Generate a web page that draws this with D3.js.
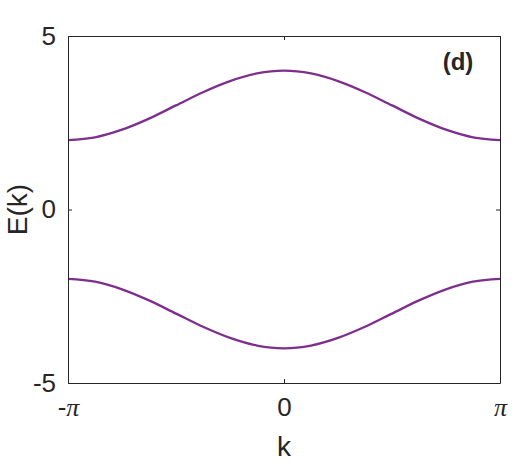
<!DOCTYPE html>
<html>
<head>
<meta charset="utf-8">
<script src="https://cdn.jsdelivr.net/npm/d3@7"></script>
<style>
  body { margin: 0; background: #fff; }
  text { font-family: "Liberation Sans", Arial, sans-serif; fill: #262626; }
</style>
</head>
<body>
<script>
// k samples (in units of pi) and band energies
var kPi = [-1, -0.875, -0.75, -0.625, -0.5, -0.375, -0.25, -0.125, 0,
           0.125, 0.25, 0.375, 0.5, 0.625, 0.75, 0.875, 1];
var upperBand = [2.00, 2.08, 2.30, 2.62, 3.00, 3.38, 3.70, 3.92, 4.00,
                 3.92, 3.70, 3.38, 3.00, 2.62, 2.30, 2.08, 2.00];
var lowerBand = [-2.00, -2.08, -2.30, -2.62, -3.00, -3.38, -3.70, -3.92, -4.00,
                 -3.92, -3.70, -3.38, -3.00, -2.62, -2.30, -2.08, -2.00];
var xTicks = [-1, 0, 1];
var xTickSign = ["-", "", ""];
var xTickBody = ["\u03c0", "0", "\u03c0"];
var yTicks = [-5, 0, 5];

var margin = {top: 36, right: 16, bottom: 88, left: 68};
var width = 516 - margin.left - margin.right;
var height = 471 - margin.top - margin.bottom;

var svg = d3.select("body").append("svg")
    .attr("width", 516)
    .attr("height", 471);

var chart = svg.append("g")
    .attr("transform", "translate(" + margin.left + "," + margin.top + ")");

var x = d3.scaleLinear().domain([-1, 1]).range([0, width]);
var y = d3.scaleLinear().domain([-5, 5]).range([height, 0]);

var line = d3.line()
    .x(d => x(d[0]))
    .y(d => y(d[1]))
    .curve(d3.curveCatmullRom);

var color = "#7E2F8E";

[upperBand, lowerBand].forEach(function(band) {
  chart.append("path")
    .datum(kPi.map((k, i) => [k, band[i]]))
    .attr("fill", "none")
    .attr("stroke", color)
    .attr("stroke-width", 2.3)
    .attr("d", line);
});

// axes, MATLAB style: ticks pointing inward, box around
var tickLen = 4;
var xAxis = d3.axisBottom(x).tickValues(xTicks).tickSizeInner(-tickLen).tickSizeOuter(0)
    .tickPadding(15).tickFormat("");
var yAxis = d3.axisLeft(y).tickValues(yTicks).tickSizeInner(-tickLen).tickSizeOuter(0)
    .tickPadding(12).tickFormat(d => String(d));

var gx = chart.append("g").attr("transform", "translate(0," + height + ")").call(xAxis);
var gy = chart.append("g").call(yAxis);
chart.append("g").call(d3.axisTop(x).tickValues(xTicks).tickSizeInner(-tickLen).tickSizeOuter(0).tickFormat(""));
chart.append("g").attr("transform", "translate(" + width + ",0)")
  .call(d3.axisRight(y).tickValues(yTicks).tickSizeInner(-tickLen).tickSizeOuter(0).tickFormat(""));

chart.selectAll(".domain").attr("stroke", "#262626");
chart.selectAll(".tick line").attr("stroke", "#262626");
gy.selectAll(".tick text").attr("font-size", 26).attr("fill", "#262626")
  .style("font-family", "'Liberation Sans', Arial, sans-serif");

// x tick labels: sans minus sign, italic serif pi
gx.selectAll(".tick text").each(function(d, i) {
  var t = d3.select(this).attr("font-size", 26).attr("fill", "#262626")
    .style("font-family", "'Liberation Sans', Arial, sans-serif");
  t.text(null);
  if (xTickSign[i]) t.append("tspan").text(xTickSign[i]);
  var b = t.append("tspan").text(xTickBody[i]);
  if (d !== 0) b.style("font-family", "'Liberation Serif', serif").style("font-style", "italic");
});

// axis labels
chart.append("text")
  .attr("x", width / 2)
  .attr("y", height + 73)
  .attr("text-anchor", "middle")
  .attr("font-size", 28)
  .text("k");

chart.append("text")
  .attr("transform", "translate(" + (-41) + "," + (height / 2) + ") rotate(-90)")
  .attr("text-anchor", "middle")
  .attr("font-size", 28)
  .text("E(k)");

chart.append("text")
  .attr("x", 390)
  .attr("y", 34)
  .attr("text-anchor", "middle")
  .attr("font-size", 24)
  .attr("font-weight", "bold")
  .text("(d)");
</script>
</body>
</html>
